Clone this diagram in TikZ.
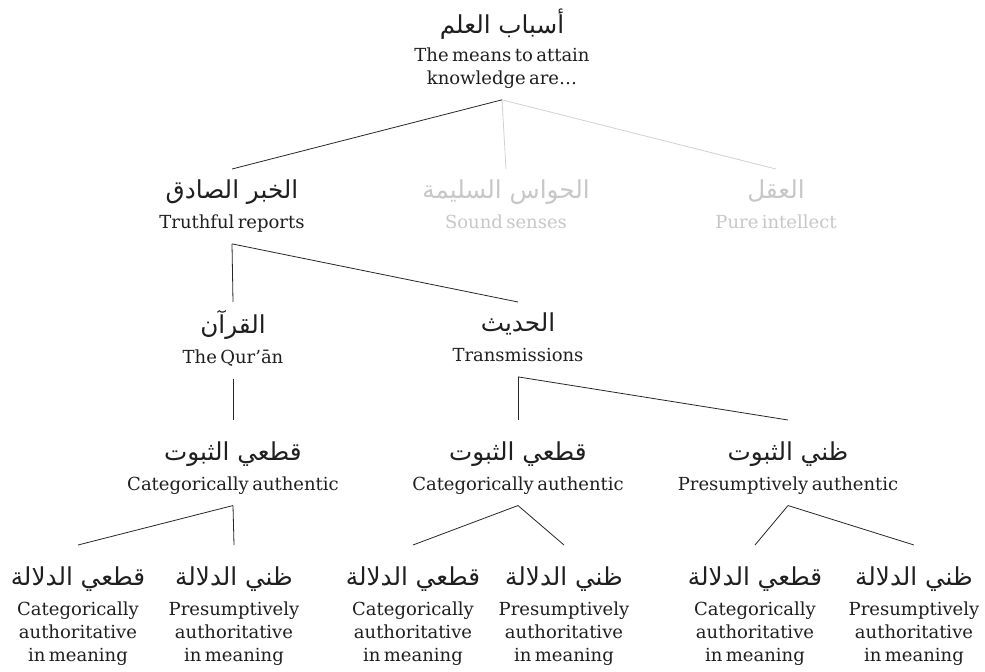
\documentclass[tikz,border=0pt]{standalone}
\usepackage{fontspec}
\setmainfont{DejaVu Serif}[WordSpace=0.6]
\newfontfamily\arabicfont[Script=Arabic]{DejaVu Sans}
\TeXXeTstate=1
% Arabic heading of a term; the optional argument adds room above it
\newcommand{\arname}[2][0pt]{{\arabicfont\fontsize{18.5}{22}\selectfont\rule[-5pt]{0pt}{\dimexpr21pt+#1\relax}\beginR #2\endR}}
\tikzstyle{term} = [align=center, anchor=north, inner xsep=0pt, inner ysep=6pt, text=black!88, font=\fontsize{13.5}{17.5}\selectfont]
\tikzstyle{muted} = [text=black!22]
\tikzstyle{branch} = [black!85, line width=0.6pt]
\tikzstyle{mutedbranch} = [black!18, line width=0.6pt]

\begin{document}
\begin{tikzpicture}[x=0.75pt, y=-0.75pt]
    \useasboundingbox (0,0) rectangle (985,671);
    % the root
    \node (root) [term] at (502,1) {\arname{أسباب العلم}\\[3pt]The means to attain\\knowledge are\dots\strut};
    % the three means
    \node (truth) [term] at (232,169) {\arname{الخبر الصادق}\\[5pt]Truthful reports\strut};
    \node (senses) [term, muted] at (506,169) {\arname{الحواس السليمة}\\[5pt]Sound senses\strut};
    \node (intellect) [term, muted] at (776,169) {\arname{العقل}\\[5pt]Pure intellect\strut};
    % truthful reports
    \node (quran) [term] at (233,302) {\arname{القرآن}\\[5pt]The Qur’ān\strut};
    \node (hadith) [term] at (518,302) {\arname{الحديث}\\[5pt]Transmissions\strut};
    % authenticity
    \node (qcat) [term] at (233,420) {\arname[8pt]{قطعي الثبوت}\\[5pt]Categorically authentic\strut};
    \node (hcat) [term] at (518,420) {\arname[8pt]{قطعي الثبوت}\\[5pt]Categorically authentic\strut};
    \node (hpre) [term] at (788,420) {\arname[8pt]{ظني الثبوت}\\[5pt]Presumptively authentic\strut};
    % meaning
    \node (qcatcat) [term] at (78,545) {\arname[8pt]{قطعي الدلالة}\\[5pt]Categorically\\authoritative\\in meaning\strut};
    \node (qcatpre) [term] at (234,545) {\arname[8pt]{ظني الدلالة}\\[5pt]Presumptively\\authoritative\\in meaning\strut};
    \node (hcatcat) [term] at (413,545) {\arname[8pt]{قطعي الدلالة}\\[5pt]Categorically\\authoritative\\in meaning\strut};
    \node (hcatpre) [term] at (564,545) {\arname[8pt]{ظني الدلالة}\\[5pt]Presumptively\\authoritative\\in meaning\strut};
    \node (hprecat) [term] at (755,545) {\arname[8pt]{قطعي الدلالة}\\[5pt]Categorically\\authoritative\\in meaning\strut};
    \node (hprepre) [term] at (914,545) {\arname[8pt]{ظني الدلالة}\\[5pt]Presumptively\\authoritative\\in meaning\strut};

    \draw [mutedbranch] (root.south) -- (senses.north);
    \draw [mutedbranch] (root.south) -- (intellect.north);
    \draw [branch] (root.south) -- (truth.north);
    \draw [branch] (truth.south) -- (quran.north);
    \draw [branch] (truth.south) -- (hadith.north);
    \draw [branch] (quran.south) -- (qcat.north);
    \draw [branch] (hadith.south) -- (hcat.north);
    \draw [branch] (hadith.south) -- (hpre.north);
    \draw [branch] (qcat.south) -- (qcatcat.north);
    \draw [branch] (qcat.south) -- (qcatpre.north);
    \draw [branch] (hcat.south) -- (hcatcat.north);
    \draw [branch] (hcat.south) -- (hcatpre.north);
    \draw [branch] (hpre.south) -- (hprecat.north);
    \draw [branch] (hpre.south) -- (hprepre.north);
\end{tikzpicture}
\end{document}
